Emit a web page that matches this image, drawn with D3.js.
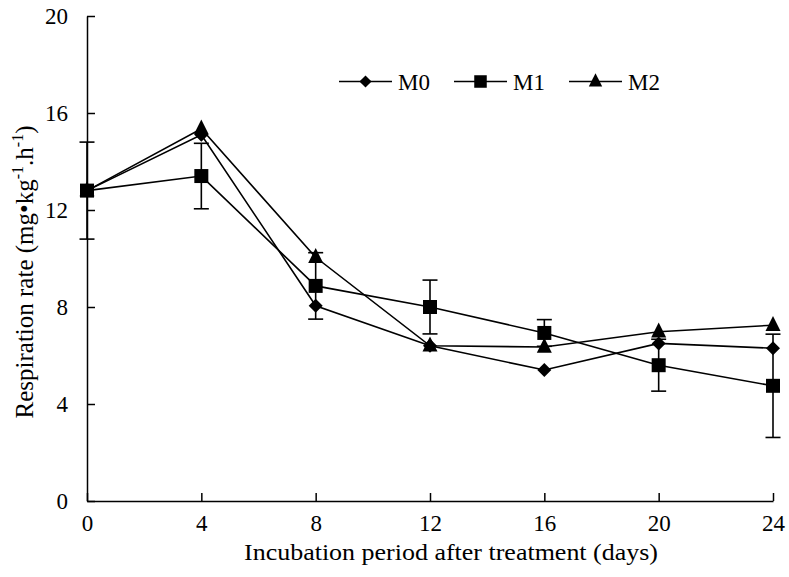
<!DOCTYPE html>
<html><head><meta charset="utf-8">
<script src="https://cdn.jsdelivr.net/npm/d3@7"></script>
<style>body{margin:0;background:#fff}svg{display:block}text{font-family:"Liberation Serif","Times New Roman",serif;fill:#000}</style>
</head><body>
<svg id="c" width="789" height="577"></svg>
<script>
const days = [0, 4, 8, 12, 16, 20, 24];
const seriesNames = ["M0", "M1", "M2"];
const m0 = [12.8, 15.1, 8.05, 6.4, 5.4, 6.5, 6.3];
const m1 = [12.8, 13.4, 8.87, 8.0, 6.93, 5.6, 4.75];
const m2 = [12.8, 15.35, 10.05, 6.4, 6.35, 6.98, 7.25];
const m1Err = [2.0, 1.35, 1.37, 1.11, 0.55, 1.07, 2.13];
const yTicks = [0, 4, 8, 12, 16, 20];
const xTicks = [0, 4, 8, 12, 16, 20, 24];

const svg = d3.select("#c");
const x = d3.scaleLinear().domain([0, 24]).range([87, 773]);
const y = d3.scaleLinear().domain([0, 20]).range([501, 16]);

// axes
const xa = svg.append("g").attr("transform", "translate(0,501)")
  .call(d3.axisBottom(x).tickValues(xTicks).tickSizeInner(-8).tickSizeOuter(0));
const ya = svg.append("g").attr("transform", "translate(87,0)")
  .call(d3.axisLeft(y).tickValues(yTicks).tickSizeInner(-8).tickSizeOuter(0).tickPadding(19));
[xa, ya].forEach(a => {
  a.select(".domain").attr("stroke", "#000").attr("stroke-width", 1.5);
  a.selectAll(".tick line").attr("stroke", "#000").attr("stroke-width", 1.5);
  a.selectAll(".tick text").style("font-size", "23px").attr("fill", "#000");
});
xa.selectAll(".tick text").attr("y", 30).attr("dy", 0);
ya.selectAll(".tick text").attr("dy", "0.34em");

const diamond = {draw(ctx, size) { const r = Math.sqrt(size) / 2; ctx.moveTo(0, -r); ctx.lineTo(r, 0); ctx.lineTo(0, r); ctx.lineTo(-r, 0); ctx.closePath(); }};
const tri = {draw(ctx, size) { const h = Math.sqrt(size); ctx.moveTo(0, -h * 0.62); ctx.lineTo(h * 0.5, h * 0.38); ctx.lineTo(-h * 0.5, h * 0.38); ctx.closePath(); }};

const series = [
  {name: "M0", vals: m0, shape: diamond, size: 196},
  {name: "M1", vals: m1, shape: d3.symbolSquare, size: 196, err: m1Err},
  {name: "M2", vals: m2, shape: tri, size: 225}
];

const line = d3.line().x((d, i) => x(days[i])).y(d => y(d));
series.forEach(s => {
  svg.append("path").attr("d", line(s.vals)).attr("fill", "none")
    .attr("stroke", "#000").attr("stroke-width", 1.6);
});

// error bars
series.filter(s => s.err).forEach(s => {
  const g = svg.append("g").attr("stroke", "#000").attr("stroke-width", 1.6);
  s.vals.forEach((v, i) => {
    const cx = x(days[i]), e = s.err[i];
    g.append("line").attr("x1", cx).attr("x2", cx).attr("y1", y(v - e)).attr("y2", y(v + e));
    g.append("line").attr("x1", cx - 7.5).attr("x2", cx + 7.5).attr("y1", y(v - e)).attr("y2", y(v - e));
    g.append("line").attr("x1", cx - 7.5).attr("x2", cx + 7.5).attr("y1", y(v + e)).attr("y2", y(v + e));
  });
});

// markers
series.forEach(s => {
  const sym = d3.symbol().type(s.shape).size(s.size);
  s.vals.forEach((v, i) => {
    svg.append("path").attr("d", sym()).attr("fill", "#000")
      .attr("transform", `translate(${x(days[i])},${y(v)})`);
  });
});

// legend
const legX = [339, 454, 569];
series.forEach((s, k) => {
  const lx = legX[k], ly = 81.5;
  svg.append("line").attr("x1", lx).attr("x2", lx + 53).attr("y1", ly).attr("y2", ly)
    .attr("stroke", "#000").attr("stroke-width", 1.6);
  svg.append("path").attr("d", d3.symbol().type(s.shape).size(s.size * (k === 0 ? 0.75 : 0.8))())
    .attr("fill", "#000").attr("transform", `translate(${lx + 26.5},${ly})`);
  svg.append("text").attr("x", lx + 59).attr("y", 89.5).style("font-size", "23px").text(s.name);
});

// axis titles
svg.append("text").attr("x", 451).attr("y", 560).attr("text-anchor", "middle")
  .attr("textLength", 414).attr("lengthAdjust", "spacingAndGlyphs")
  .style("font-size", "24px").text("Incubation period after treatment (days)");
const yt = svg.append("text").attr("transform", "translate(33,272) rotate(-90)")
  .attr("text-anchor", "middle").style("font-size", "25px");
yt.append("tspan").text("Respiration rate (mg•kg");
yt.append("tspan").attr("dy", -10).style("font-size", "16px").text("-1");
yt.append("tspan").attr("dy", 10).text(".h");
yt.append("tspan").attr("dy", -10).style("font-size", "16px").text("-1");
yt.append("tspan").attr("dy", 10).text(")");
</script>
</body></html>
